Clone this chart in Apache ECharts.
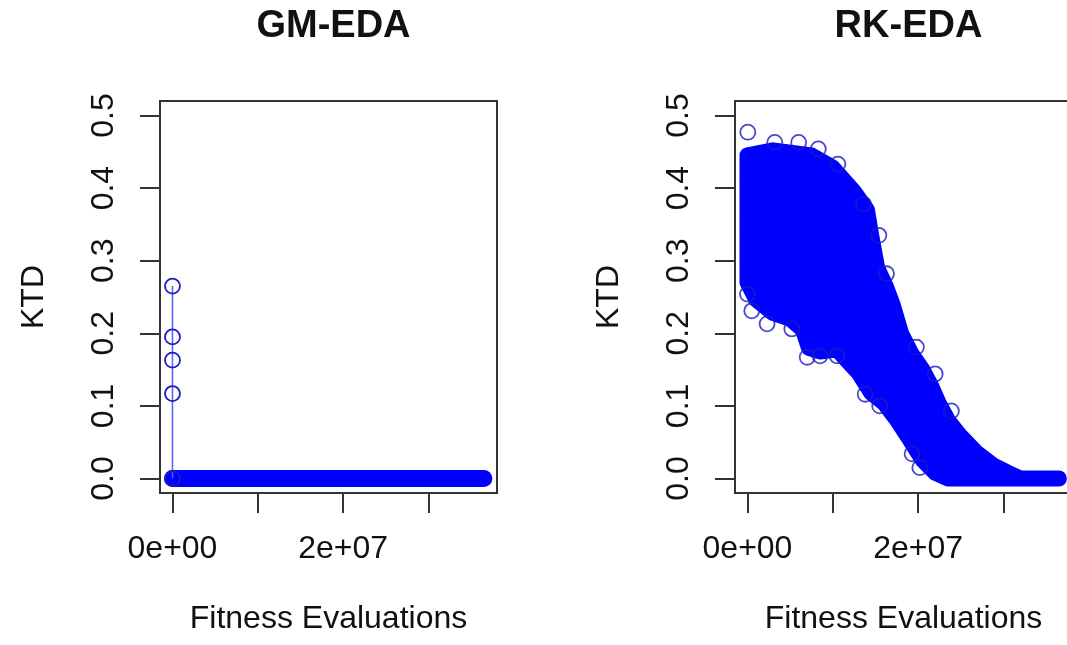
<!DOCTYPE html>
<html>
<head>
<meta charset="utf-8">
<script src="https://cdn.jsdelivr.net/npm/echarts@6/dist/echarts.min.js"></script>
<style>
  html, body { margin: 0; padding: 0; background: #fff; }
  #main { width: 1067px; height: 645px; }
</style>
</head>
<body>
<div id="main"></div>
<script>
var panelTitles = ['GM-EDA', 'RK-EDA'];
var xName = 'Fitness Evaluations';
var yName = 'KTD';
var xTicks = [0, 1e7, 2e7, 3e7];
var xLabels = [0, 2e7];
var yTicks = [0, 0.1, 0.2, 0.3, 0.4, 0.5];
var xRange = [-1.463e6, 3.804e7];
var yRange = [-0.02, 0.52];

// GM-EDA: a few early evaluations, then flat at zero
var gmStartX = [0, 0, 0, 0, 0];
var gmStartY = [0.265, 0.195, 0.163, 0.117, 0];
var gmFlatX = [0, 3.65e7];
var gmFlatY = [0, 0];

// RK-EDA: edges of the dense point cloud (point centres)
var rkUpperX = [0, 3.0e6, 7.5e6, 1.0e7, 1.25e7, 1.4e7, 1.45e7, 1.52e7, 1.62e7, 1.7e7, 1.8e7, 1.92e7, 2.05e7, 2.15e7, 2.24e7, 2.35e7, 2.5e7, 2.68e7, 2.88e7, 3.05e7, 3.2e7, 3.65e7];
var rkUpperY = [0.445, 0.452, 0.445, 0.428, 0.395, 0.37, 0.335, 0.29, 0.265, 0.24, 0.2, 0.172, 0.15, 0.128, 0.104, 0.08, 0.058, 0.036, 0.018, 0.008, 0, 0];
var rkLowerX = [0, 1.0e6, 3.0e6, 5.0e6, 6.5e6, 7.2e6, 8.5e6, 1.05e7, 1.15e7, 1.3e7, 1.45e7, 1.6e7, 1.75e7, 1.9e7, 2.05e7, 2.2e7, 2.35e7, 3.65e7];
var rkLowerY = [0.27, 0.247, 0.228, 0.22, 0.205, 0.18, 0.175, 0.178, 0.165, 0.146, 0.118, 0.104, 0.081, 0.054, 0.026, 0.008, 0, 0];

// RK-EDA: stray points sticking out of the cloud
var rkOutX = [4e4, 3.2e6, 6.0e6, 8.3e6, 1.06e7, 1.36e7, 1.54e7, 1.63e7, 0, 5e5, 2.3e6, 5.2e6, 7.0e6, 8.5e6, 1.05e7, 1.38e7, 1.55e7, 1.98e7, 2.2e7, 2.39e7, 2.02e7, 1.93e7];
var rkOutY = [0.477, 0.463, 0.463, 0.454, 0.433, 0.378, 0.335, 0.282, 0.254, 0.231, 0.213, 0.206, 0.167, 0.169, 0.169, 0.116, 0.100, 0.181, 0.144, 0.093, 0.015, 0.034];

var blue = '#0000ff';
var ring = '#1c1cc0';
var ink = '#111';
var frame = '#333';
var font = '"Liberation Sans", Arial, Helvetica, sans-serif';

function zip(xs, ys) {
  return xs.map(function (x, i) { return [x, ys[i]]; });
}
function sci(v) {
  if (v === 0) return '0e+00';
  var e = Math.floor(Math.log10(v));
  var m = Math.round(v / Math.pow(10, e));
  return m + 'e+' + (e < 10 ? '0' : '') + e;
}

var rkPoly = zip(rkUpperX, rkUpperY).concat(zip(rkLowerX, rkLowerY).reverse());

var grids = [
  { left: 160, top: 101, width: 337, height: 392 },
  { left: 735, top: 101, width: 337, height: 392 }
];

function xAxisFor(i) {
  return {
    type: 'value', gridIndex: i, min: xRange[0], max: xRange[1],
    name: xName, nameLocation: 'middle', nameGap: 110,
    nameTextStyle: { color: ink, fontSize: 32, fontFamily: font },
    axisLine: { show: true, onZero: false, lineStyle: { color: frame, width: 2 } },
    splitLine: { show: false },
    axisTick: { show: true, length: 20, customValues: xTicks, lineStyle: { color: frame, width: 2 } },
    axisLabel: { show: true, customValues: xLabels, margin: 40, color: ink, fontSize: 32, fontFamily: font, formatter: sci }
  };
}
function yAxisFor(i) {
  return {
    type: 'value', gridIndex: i, min: yRange[0], max: yRange[1],
    name: yName, nameLocation: 'middle', nameGap: 110, nameRotate: 90,
    nameTextStyle: { color: ink, fontSize: 32, fontFamily: font },
    axisLine: { show: true, onZero: false, lineStyle: { color: frame, width: 2 } },
    splitLine: { show: false },
    axisTick: { show: true, length: 20, customValues: yTicks, lineStyle: { color: frame, width: 2 } },
    axisLabel: { show: true, customValues: yTicks, rotate: 90, margin: 40, color: ink, fontSize: 32, fontFamily: font,
      formatter: function (v) { return v.toFixed(1); } }
  };
}

var chart = echarts.init(document.getElementById('main'), null, { renderer: 'canvas' });
chart.setOption({
  animation: false,
  backgroundColor: '#fff',
  title: panelTitles.map(function (t, i) {
    return {
      text: t, left: grids[i].left + grids[i].width / 2, top: 3, textAlign: 'center',
      textStyle: { color: ink, fontSize: 38, fontWeight: 'bold', fontFamily: font }
    };
  }),
  grid: grids.map(function (g) {
    return {
      left: g.left, top: g.top, width: g.width, height: g.height,
      outerBoundsMode: 'none', containLabel: false,
      show: true, borderColor: frame, borderWidth: 2, backgroundColor: 'transparent'
    };
  }),
  xAxis: [xAxisFor(0), xAxisFor(1)],
  yAxis: [yAxisFor(0), yAxisFor(1)],
  series: [
    {
      type: 'line', xAxisIndex: 0, yAxisIndex: 0,
      data: zip(gmFlatX, gmFlatY),
      symbol: 'none',
      lineStyle: { color: blue, width: 17, cap: 'round' }
    },
    {
      type: 'line', xAxisIndex: 0, yAxisIndex: 0,
      data: zip(gmStartX, gmStartY),
      symbol: 'circle', symbolSize: 15,
      lineStyle: { color: '#5a5aff', width: 1.5 },
      itemStyle: { color: 'rgba(0,0,0,0)', borderColor: ring, borderWidth: 1.8 }
    },
    {
      type: 'custom', xAxisIndex: 1, yAxisIndex: 1, clip: true,
      data: rkPoly,
      encode: { x: 0, y: 1 },
      renderItem: function (params, api) {
        if (params.dataIndex !== 0) return;
        var pts = rkPoly.map(function (p) { return api.coord(p); });
        return {
          type: 'polygon',
          shape: { points: pts },
          style: { fill: blue, stroke: blue, lineWidth: 16, lineJoin: 'round' }
        };
      }
    },
    {
      type: 'scatter', xAxisIndex: 1, yAxisIndex: 1,
      data: zip(rkOutX, rkOutY),
      symbol: 'circle', symbolSize: 15,
      itemStyle: { color: 'rgba(0,0,0,0)', borderColor: ring, borderWidth: 1.8 }
    }
  ]
});
</script>
</body>
</html>
